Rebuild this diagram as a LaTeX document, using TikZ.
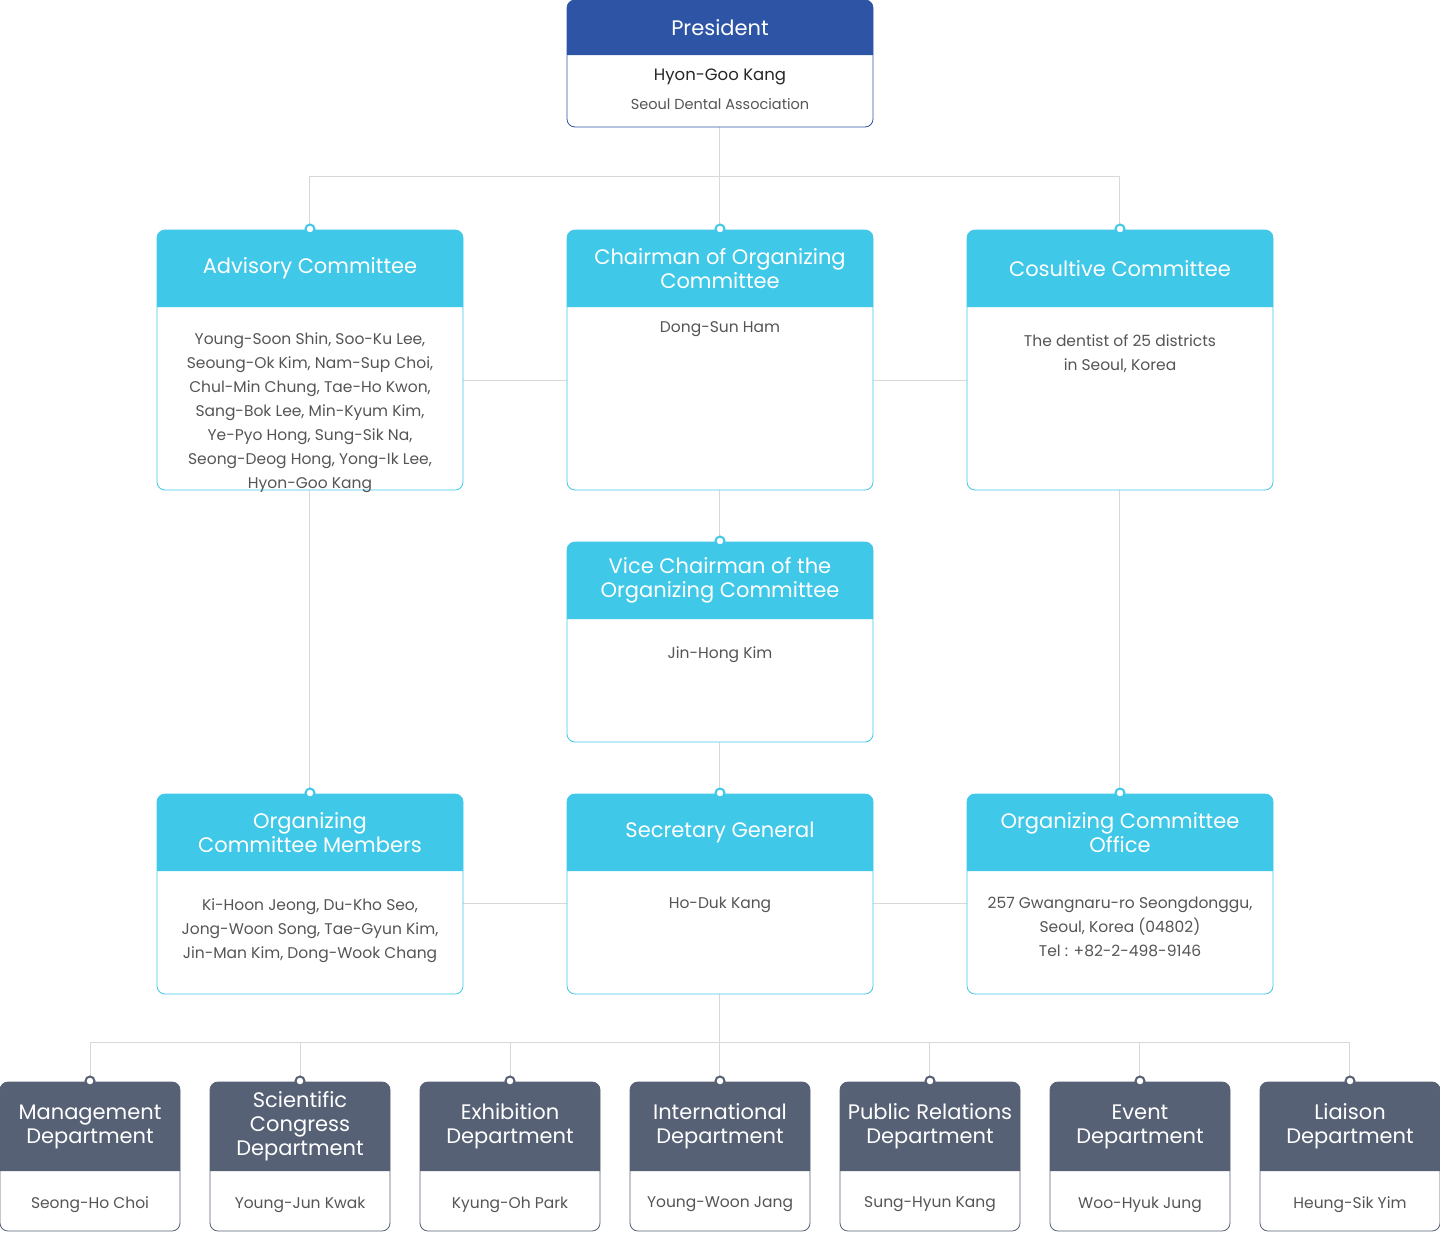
\documentclass[tikz,border=0pt]{standalone}
\usepackage{fontspec}
\setmainfont{Poppins}
\definecolor{pres}{HTML}{2E55A5}
\definecolor{cyanh}{HTML}{40C8E8}
\definecolor{dept}{HTML}{576175}
\definecolor{ln}{HTML}{D8D8D8}
\definecolor{txt}{HTML}{555555}
\tikzset{conn/.style={draw=ln,line width=1pt},
 ttl/.style={text=white,font=\fontsize{21}{24}\selectfont,align=center},
 bod/.style={text=txt,font=\fontsize{15.5}{24}\selectfont,align=center,anchor=north},
 ring/.style={draw=#1,fill=white,line width=2pt}}
% \obox{name}{x1}{y1}{x2}{y2}{yh}{color}{title}{body}
\newcommand\obox[9]{%
 \draw[draw=#7,fill=white,rounded corners=8pt,line width=0.8pt] (#2,#3) rectangle (#4,#5);
 \fill[#7] (#2,#6) [rounded corners=8pt] -- (#2,#3) -- (#4,#3) [sharp corners] -- (#4,#6) -- cycle;
 \node[ttl] (#1t) at ({(#2+#4)/2},{(#3+#6)/2}) {#8};
 \node[bod] (#1b) at ({(#2+#4)/2},{#6+22}) {#9};
 \coordinate (#1top) at ({(#2+#4)/2},#3);
 \coordinate (#1bot) at ({(#2+#4)/2},#5);
 \coordinate (#1L) at (#2,{(#6+#5)/2});
 \coordinate (#1R) at (#4,{(#6+#5)/2});
}
\begin{document}
\begin{tikzpicture}[x=1pt,y=-1pt]
\useasboundingbox (0,0) rectangle (1440,1232);
% connectors
\coordinate (h1a) at (309,176); \coordinate (h1m) at (719,176); \coordinate (h1b) at (1119,176);
\coordinate (h2m) at (719,1042);
\foreach \x in {90,300,510,719,929,1139,1349}{\coordinate (d\x) at (\x,1042);}
\draw[conn] (719,127) -- (h1m);
\draw[conn] (h1a) -- (h1b);
\draw[conn] (h1a) -- (309,230); \draw[conn] (h1m) -- (719,230); \draw[conn] (h1b) -- (1119,230);
\draw[conn] (309,490) -- (309,794);
\draw[conn] (1119,490) -- (1119,794);
\draw[conn] (719,490) -- (719,542);
\draw[conn] (719,742) -- (719,794);
\draw[conn] (463,380) -- (567,380); \draw[conn] (873,380) -- (967,380);
\draw[conn] (463,903) -- (567,903); \draw[conn] (873,903) -- (967,903);
\draw[conn] (719,994) -- (h2m);
\draw[conn] (d90) -- (d1349);
\foreach \x in {90,300,510,719,929,1139,1349}{\draw[conn] (d\x) -- (\x,1082);}
% president
\draw[draw=pres,fill=white,rounded corners=8pt,line width=0.8pt] (567,0) rectangle (873,127);
\fill[pres] (567,55) [rounded corners=8pt] -- (567,0) -- (873,0) [sharp corners] -- (873,55) -- cycle;
\node[ttl] (pres) at (720,28) {President};
\node[text=black!85,font=\fontsize{16.5}{20}\selectfont] (presn) at (720,77) {Hyon-Goo Kang};
\node[text=txt,font=\fontsize{14.5}{18}\selectfont\addfontfeature{FakeBold=0}] (pressub) at (720,104) {Seoul Dental Association};
% row 2
\obox{adv}{157}{230}{463}{490}{307}{cyanh}{Advisory Committee}{Young-Soon Shin, Soo-Ku Lee,\\Seoung-Ok Kim, Nam-Sup Choi,\\Chul-Min Chung, Tae-Ho Kwon,\\Sang-Bok Lee, Min-Kyum Kim,\\Ye-Pyo Hong, Sung-Sik Na,\\Seong-Deog Hong, Yong-Ik Lee,\\Hyon-Goo Kang}
\path (advb.north) ++(0,-10) node[bod] {};
\obox{chm}{567}{230}{873}{490}{307}{cyanh}{Chairman of Organizing\\Committee}{\\[-24pt]\rule{0pt}{14pt}Dong-Sun Ham}
\obox{cons}{967}{230}{1273}{490}{307}{cyanh}{Cosultive Committee}{\rule{0pt}{14pt}The dentist of 25 districts\\in Seoul, Korea}
% row 3
\obox{vice}{567}{542}{873}{742}{619}{cyanh}{Vice Chairman of the\\Organizing Committee}{\rule{0pt}{14pt}Jin-Hong Kim}
% row 4
\obox{ocm}{157}{794}{463}{994}{871}{cyanh}{Organizing\\Committee Members}{\rule{0pt}{14pt}Ki-Hoon Jeong, Du-Kho Seo,\\Jong-Woon Song, Tae-Gyun Kim,\\Jin-Man Kim, Dong-Wook Chang}
\obox{sec}{567}{794}{873}{994}{871}{cyanh}{Secretary General}{Ho-Duk Kang}
\obox{off}{967}{794}{1273}{994}{871}{cyanh}{Organizing Committee\\Office}{257 Gwangnaru-ro Seongdonggu,\\Seoul, Korea (04802)\\Tel : +82-2-498-9146}
% departments
\obox{m1}{0}{1082}{180}{1231}{1171}{dept}{Management\\Department}{Seong-Ho Choi}
\obox{m2}{210}{1082}{390}{1231}{1171}{dept}{Scientific\\Congress\\Department}{Young-Jun Kwak}
\obox{m3}{420}{1082}{600}{1231}{1171}{dept}{Exhibition\\Department}{Kyung-Oh Park}
\obox{m4}{630}{1082}{810}{1231}{1171}{dept}{International\\Department}{Young-Woon Jang}
\obox{m5}{840}{1082}{1020}{1231}{1171}{dept}{Public Relations\\Department}{Sung-Hyun Kang}
\obox{m6}{1050}{1082}{1230}{1231}{1171}{dept}{Event\\Department}{Woo-Hyuk Jung}
\obox{m7}{1260}{1082}{1440}{1231}{1171}{dept}{Liaison\\Department}{Heung-Sik Yim}
% rings
\foreach \p in {advtop,chmtop,constop,vicetop,ocmtop,sectop,offtop}{\draw[ring=cyanh] (\p) ++(0,-1) circle (4.5);}
\foreach \p in {m1top,m2top,m3top,m4top,m5top,m6top,m7top}{\draw[ring=dept] (\p) ++(0,-1) circle (4.5);}
\end{tikzpicture}
\end{document}
